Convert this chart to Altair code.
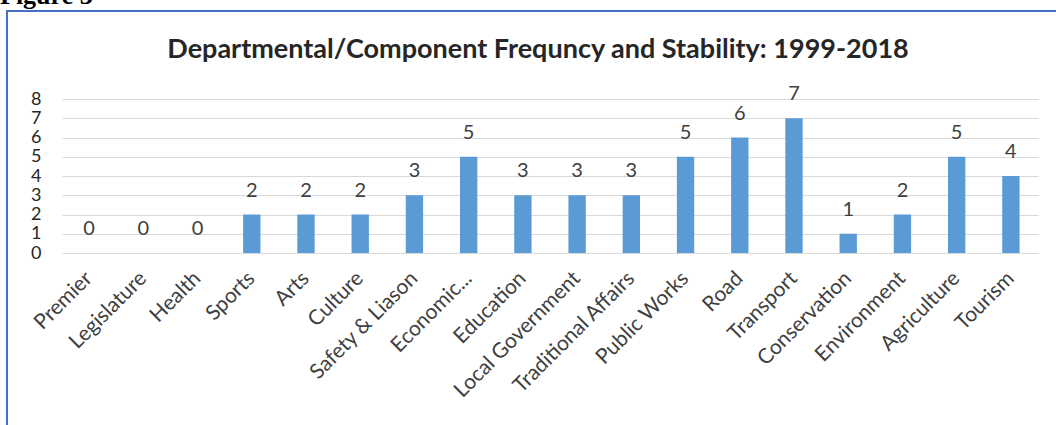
import altair as alt
import pandas as pd

categories = ["Premier", "Legislature", "Health", "Sports", "Arts", "Culture",
              "Safety & Liason", "Economic...", "Education", "Local Government",
              "Traditional Affairs", "Public Works", "Road", "Transport",
              "Conservation", "Environment", "Agriculture", "Tourism"]
values = [0, 0, 0, 2, 2, 2, 3, 5, 3, 3, 3, 5, 6, 7, 1, 2, 5, 4]
y_ticks = [0, 1, 2, 3, 4, 5, 6, 7, 8]
title_text = "Departmental/Component Frequncy and Stability: 1999-2018"

df = pd.DataFrame({"category": categories, "value": values})
one = pd.DataFrame({"k": [0]})

W, H = 976, 154
FONT = "Lato"

x_enc = alt.X("category:N", sort=categories, title=None,
              scale=alt.Scale(paddingInner=0.68, paddingOuter=0.34),
              axis=alt.Axis(labelAngle=-45, labelAlign="right", labelBaseline="middle",
                            labelFont=FONT, labelFontSize=21, labelColor="#404040",
                            labelPadding=22, ticks=False, domain=False, grid=False,
                            labelOverlap=False, labelLimit=400))
y_enc = alt.Y("value:Q", title=None,
              scale=alt.Scale(domain=[0, 8], nice=False),
              axis=alt.Axis(values=y_ticks, tickCount=9, labelFont=FONT, labelFontSize=18,
                            labelColor="#262626", labelPadding=21, ticks=False,
                            domain=False, grid=True, gridColor="#D9D9D9",
                            gridWidth=1, labelOverlap=False, labelFlush=False))

base = alt.Chart(df)
bars = base.mark_bar(color="#5B9BD5").encode(x=x_enc, y=y_enc)
labels = base.mark_text(baseline="bottom", dy=-14, font=FONT, fontSize=20,
                        color="#404040").encode(x=x_enc, y=y_enc, text="value:Q")

title = alt.Chart(one).mark_text(text=title_text, font=FONT, fontSize=27,
                                 fontWeight="bold", color="#262626",
                                 baseline="middle", align="center").encode(
    x=alt.value(476), y=alt.value(-49))

frame = alt.Chart(one).mark_rect(fillOpacity=0, stroke="#4472C4", strokeWidth=2).encode(
    x=alt.value(-55), x2=alt.value(1010), y=alt.value(-88), y2=alt.value(360))

fig = alt.Chart(one).mark_text(text="Figure 3", font="Liberation Serif", fontSize=26,
                               fontWeight="bold", color="#000000",
                               baseline="alphabetic", align="left").encode(
    x=alt.value(-62), y=alt.value(-95))

chart = alt.layer(frame, fig, title, bars, labels).properties(
    width=W, height=H,
    autosize=alt.AutoSizeParams(type="none"),
    padding={"left": 62, "top": 99, "right": 18, "bottom": 172},
).configure_view(strokeWidth=0)

chart.save("out.html", embed_options={"renderer": "svg", "actions": False})
